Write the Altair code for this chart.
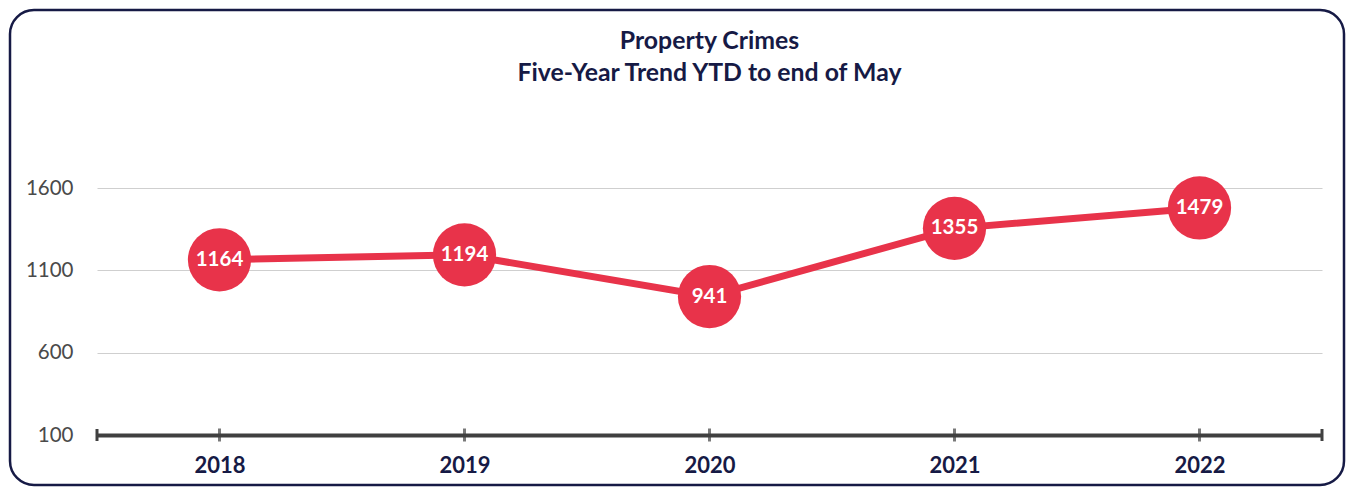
import altair as alt
import pandas as pd

years = ["2018", "2019", "2020", "2021", "2022"]
values = [1164, 1194, 941, 1355, 1479]
y_ticks = [100, 600, 1100, 1600]
title_lines = ["Property Crimes", "Five-Year Trend YTD to end of May"]

df = pd.DataFrame({"year": years, "value": values})

W, H = 1225, 247
RED = "#E8334A"
NAVY = "#161A45"
FONT = "Lato"

x_enc = alt.X("year:N", sort=years, scale=alt.Scale(type="point", padding=0.5),
              axis=alt.Axis(title=None, labelAngle=0, labelFont=FONT, labelFontSize=22,
                            labelFontWeight="bold", labelColor=NAVY, labelPadding=20,
                            domainColor="#404040", domainWidth=4, ticks=False, grid=False))
y_enc = alt.Y("value:Q", scale=alt.Scale(domain=[100, 1600], nice=False, zero=False),
              axis=alt.Axis(title=None, values=y_ticks, format="d", labelFont=FONT,
                            labelFontSize=20.5, labelColor="#4a4a4a", labelPadding=24,
                            domain=False, ticks=False,
                            grid=True, gridColor="#cfcfcf", gridWidth=1.2))

base = alt.Chart(df)

frame = base.mark_rect(filled=False, stroke=NAVY, strokeWidth=2.5, cornerRadius=24).encode(
    x=alt.value(-87), x2=alt.value(W + 22), y=alt.value(-178), y2=alt.value(H + 50)
).transform_filter(alt.datum.year == years[0])

ticks = base.mark_tick(color="#404040", thickness=3, size=13, orient="vertical").encode(
    x=alt.X("year:N", sort=years), y=alt.datum(100)
)
end_ticks = base.mark_rule(color="#404040", strokeWidth=3).encode(
    x=alt.value(0), y=alt.value(H - 6), y2=alt.value(H + 6)
).transform_filter(alt.datum.year == years[0])
end_ticks2 = base.mark_rule(color="#404040", strokeWidth=3).encode(
    x=alt.value(W), y=alt.value(H - 6), y2=alt.value(H + 6)
).transform_filter(alt.datum.year == years[0])

line = base.mark_line(color=RED, strokeWidth=7).encode(x=x_enc, y=y_enc)
points = base.mark_circle(color=RED, opacity=1, size=4000).encode(
    x=alt.X("year:N", sort=years), y="value:Q")
labels = base.mark_text(color="white", font=FONT, fontSize=20.5, fontWeight="bold",
                        baseline="middle", align="center").encode(
    x=alt.X("year:N", sort=years), y="value:Q", text="value:Q")

chart = alt.layer(frame, line, ticks, end_ticks, end_ticks2, points, labels).properties(
    width=W, height=H, padding=0,
    title=alt.TitleParams(text=title_lines, font=FONT, fontSize=24.8, fontWeight="bold",
                          color=NAVY, anchor="middle", frame="group", offset=-77,
                          lineHeight=32),
).configure(background="white").configure_view(stroke=None)

chart.save("out.html", embed_options={"renderer": "svg", "actions": False})
